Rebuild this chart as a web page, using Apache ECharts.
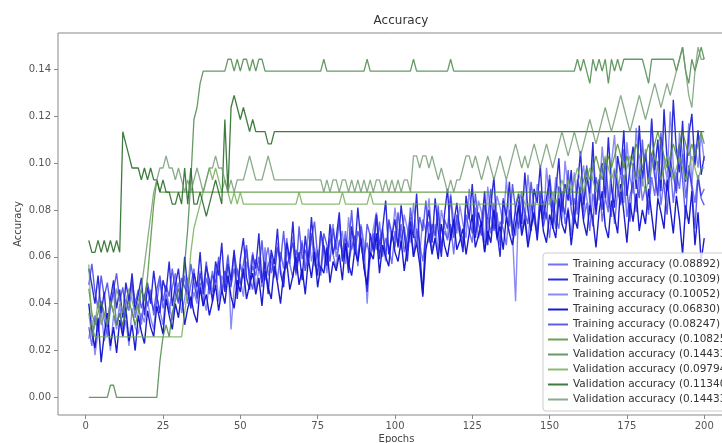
<!DOCTYPE html>
<html>
<head>
<meta charset="utf-8">
<script src="https://cdn.jsdelivr.net/npm/echarts@6/dist/echarts.min.js"></script>
<style>
  html, body { margin: 0; padding: 0; background: #fff; }
  #main { width: 722px; height: 443px; }
</style>
</head>
<body>
<div id="main"></div>
<script>
// epochs 1..200
var epochs = [];
for (var e = 1; e <= 200; e++) epochs.push(e);

var xTicks = [0, 25, 50, 75, 100, 125, 150, 175, 200];
var yTicks = [0, 0.02, 0.04, 0.06, 0.08, 0.10, 0.12, 0.14];

var trainNames = ['Training accuracy (0.08892)', 'Training accuracy (0.10309)', 'Training accuracy (0.10052)',
                  'Training accuracy (0.06830)', 'Training accuracy (0.08247)'];
// the last name carries a trailing space so the legend keeps both 0.14433 entries
var valNames = ['Validation accuracy (0.10825)', 'Validation accuracy (0.14433)', 'Validation accuracy (0.09794)',
                'Validation accuracy (0.11340)', 'Validation accuracy (0.14433) '];

var train1 = [
  0.030,0.022,0.035,0.028,0.041,0.033,0.026,0.038,0.045,0.031,0.036,0.029,0.042,0.037,0.048,0.034,0.040,0.031,0.044,0.039,
  0.046,0.035,0.041,0.050,0.038,0.044,0.036,0.047,0.053,0.041,0.045,0.052,0.040,0.048,0.055,0.043,0.049,0.039,0.051,0.046,
  0.054,0.047,0.058,0.044,0.050,0.061,0.048,0.055,0.046,0.057,0.051,0.063,0.049,0.056,0.052,0.060,0.047,0.058,0.064,0.053,
  0.059,0.050,0.062,0.055,0.068,0.057,0.051,0.063,0.058,0.066,0.054,0.061,0.070,0.056,0.063,0.052,0.065,0.059,0.068,0.061,
  0.055,0.067,0.062,0.071,0.058,0.064,0.069,0.056,0.073,0.061,0.066,0.059,0.070,0.063,0.075,0.060,0.068,0.064,0.057,0.071,
  0.065,0.074,0.062,0.069,0.077,0.060,0.072,0.066,0.058,0.070,0.075,0.063,0.068,0.079,0.064,0.071,0.067,0.074,0.061,0.076,
  0.069,0.064,0.078,0.071,0.066,0.081,0.068,0.073,0.062,0.077,0.070,0.083,0.067,0.075,0.072,0.065,0.080,0.074,0.069,0.084,
  0.071,0.078,0.066,0.082,0.075,0.070,0.086,0.073,0.079,0.068,0.084,0.077,0.072,0.088,0.074,0.081,0.069,0.085,0.078,0.090,
  0.076,0.083,0.071,0.087,0.080,0.093,0.075,0.085,0.079,0.091,0.074,0.088,0.082,0.095,0.077,0.086,0.092,0.079,0.097,0.084,
  0.090,0.078,0.094,0.086,0.101,0.082,0.093,0.088,0.099,0.083,0.096,0.089,0.104,0.085,0.097,0.091,0.083,0.095,0.086,0.089
];
var train2 = [
  0.055,0.048,0.040,0.052,0.036,0.045,0.030,0.042,0.050,0.038,0.046,0.034,0.049,0.041,0.053,0.037,0.044,0.051,0.035,0.047,
  0.040,0.054,0.043,0.036,0.050,0.045,0.058,0.039,0.048,0.055,0.042,0.060,0.046,0.038,0.053,0.047,0.062,0.044,0.056,0.050,
  0.041,0.058,0.052,0.066,0.045,0.057,0.050,0.063,0.042,0.059,0.068,0.051,0.046,0.061,0.055,0.070,0.049,0.058,0.044,0.063,
  0.057,0.072,0.053,0.047,0.066,0.059,0.075,0.054,0.062,0.050,0.069,0.058,0.077,0.060,0.052,0.071,0.064,0.056,0.074,0.061,
  0.068,0.079,0.058,0.065,0.053,0.073,0.062,0.081,0.066,0.057,0.045,0.070,0.063,0.078,0.059,0.072,0.084,0.061,0.069,0.076,
  0.064,0.082,0.070,0.058,0.075,0.068,0.087,0.063,0.044,0.072,0.080,0.066,0.085,0.071,0.060,0.078,0.089,0.067,0.074,0.083,
  0.070,0.062,0.086,0.076,0.091,0.068,0.079,0.073,0.088,0.065,0.082,0.094,0.071,0.060,0.084,0.077,0.092,0.069,0.081,0.087,
  0.074,0.096,0.080,0.071,0.089,0.083,0.099,0.076,0.085,0.093,0.072,0.088,0.102,0.079,0.091,0.084,0.097,0.075,0.090,0.105,
  0.082,0.094,0.087,0.109,0.078,0.092,0.100,0.085,0.111,0.090,0.081,0.103,0.095,0.114,0.086,0.098,0.107,0.089,0.116,0.093,
  0.104,0.091,0.119,0.097,0.110,0.088,0.123,0.101,0.094,0.127,0.105,0.096,0.118,0.092,0.112,0.121,0.099,0.114,0.095,0.103
];
var train3 = [
  0.025,0.033,0.018,0.028,0.037,0.024,0.031,0.020,0.035,0.029,0.040,0.026,0.033,0.022,0.038,0.030,0.027,0.036,0.032,0.041,
  0.034,0.029,0.043,0.037,0.031,0.046,0.039,0.033,0.044,0.049,0.036,0.042,0.051,0.038,0.045,0.040,0.054,0.043,0.037,0.050,
  0.045,0.056,0.041,0.052,0.048,0.060,0.029,0.047,0.055,0.050,0.043,0.058,0.053,0.062,0.046,0.055,0.049,0.064,0.052,0.058,
  0.051,0.066,0.055,0.049,0.063,0.057,0.069,0.052,0.060,0.067,0.054,0.072,0.058,0.064,0.056,0.070,0.061,0.053,0.068,0.074,
  0.060,0.066,0.071,0.057,0.077,0.063,0.069,0.059,0.074,0.066,0.040,0.061,0.072,0.079,0.064,0.070,0.058,0.075,0.067,0.081,
  0.070,0.063,0.078,0.072,0.066,0.083,0.069,0.061,0.076,0.071,0.085,0.067,0.074,0.062,0.080,0.073,0.068,0.087,0.075,0.070,
  0.082,0.074,0.068,0.089,0.076,0.071,0.084,0.079,0.066,0.090,0.077,0.072,0.086,0.081,0.074,0.093,0.078,0.070,0.041,0.083,
  0.088,0.075,0.095,0.082,0.077,0.091,0.085,0.073,0.098,0.084,0.079,0.094,0.087,0.076,0.101,0.089,0.082,0.096,0.080,0.092,
  0.099,0.085,0.078,0.103,0.090,0.084,0.107,0.093,0.081,0.100,0.112,0.088,0.096,0.083,0.109,0.094,0.087,0.115,0.098,0.090,
  0.106,0.092,0.118,0.097,0.085,0.111,0.101,0.093,0.122,0.099,0.088,0.113,0.104,0.095,0.117,0.091,0.108,0.098,0.112,0.101
];
var train4 = [
  0.040,0.028,0.021,0.034,0.015,0.027,0.036,0.022,0.030,0.019,0.033,0.026,0.038,0.024,0.031,0.020,0.035,0.028,0.023,0.037,
  0.030,0.026,0.039,0.033,0.027,0.042,0.035,0.029,0.040,0.034,0.045,0.031,0.038,0.043,0.036,0.032,0.047,0.039,0.044,0.035,
  0.041,0.048,0.037,0.046,0.040,0.052,0.043,0.038,0.050,0.045,0.055,0.042,0.048,0.053,0.044,0.051,0.039,0.054,0.047,0.042,
  0.056,0.049,0.040,0.053,0.058,0.046,0.052,0.060,0.048,0.055,0.044,0.059,0.051,0.062,0.047,0.056,0.053,0.064,0.049,0.058,
  0.054,0.061,0.050,0.066,0.057,0.052,0.063,0.058,0.068,0.055,0.048,0.062,0.059,0.070,0.053,0.065,0.060,0.056,0.071,0.062,
  0.058,0.067,0.054,0.064,0.072,0.060,0.066,0.057,0.043,0.063,0.070,0.061,0.068,0.059,0.074,0.065,0.060,0.069,0.076,0.063,
  0.067,0.072,0.061,0.070,0.078,0.064,0.069,0.075,0.062,0.071,0.066,0.080,0.068,0.073,0.063,0.077,0.070,0.065,0.074,0.082,
  0.069,0.076,0.064,0.072,0.079,0.067,0.083,0.071,0.066,0.078,0.073,0.068,0.085,0.074,0.070,0.080,0.065,0.077,0.072,0.087,
  0.075,0.069,0.082,0.076,0.064,0.079,0.088,0.073,0.068,0.084,0.077,0.070,0.091,0.079,0.066,0.083,0.075,0.087,0.071,0.080,
  0.074,0.089,0.078,0.067,0.085,0.079,0.072,0.093,0.081,0.070,0.086,0.076,0.061,0.082,0.074,0.088,0.065,0.079,0.058,0.068
];
var train5 = [
  0.048,0.057,0.045,0.038,0.052,0.043,0.049,0.039,0.046,0.053,0.041,0.047,0.036,0.044,0.050,0.040,0.046,0.038,0.043,0.049,
  0.042,0.037,0.046,0.052,0.041,0.048,0.043,0.055,0.045,0.040,0.051,0.047,0.044,0.057,0.049,0.042,0.053,0.046,0.058,0.044,
  0.052,0.049,0.060,0.045,0.054,0.050,0.047,0.062,0.053,0.048,0.057,0.065,0.051,0.046,0.059,0.054,0.067,0.050,0.056,0.061,
  0.052,0.064,0.058,0.071,0.055,0.061,0.066,0.053,0.073,0.059,0.063,0.057,0.068,0.075,0.060,0.054,0.070,0.065,0.058,0.072,
  0.063,0.076,0.059,0.068,0.064,0.080,0.061,0.071,0.066,0.058,0.074,0.069,0.062,0.078,0.065,0.072,0.060,0.076,0.070,0.064,
  0.079,0.067,0.073,0.062,0.081,0.070,0.065,0.077,0.071,0.084,0.066,0.074,0.069,0.082,0.063,0.076,0.072,0.086,0.068,0.078,
  0.073,0.066,0.084,0.077,0.070,0.087,0.074,0.069,0.082,0.076,0.089,0.071,0.079,0.065,0.085,0.078,0.073,0.091,0.080,0.072,
  0.086,0.079,0.074,0.092,0.081,0.069,0.088,0.083,0.076,0.095,0.082,0.072,0.090,0.084,0.078,0.097,0.080,0.074,0.093,0.086,
  0.079,0.099,0.084,0.073,0.094,0.088,0.080,0.102,0.086,0.077,0.097,0.090,0.083,0.106,0.089,0.075,0.100,0.092,0.085,0.110,
  0.091,0.080,0.104,0.094,0.086,0.113,0.090,0.078,0.101,0.095,0.087,0.108,0.093,0.076,0.099,0.089,0.072,0.094,0.085,0.082
];

var val1 = [
  0.0464,0.0361,0.0309,0.0361,0.0412,0.0361,0.0309,0.0412,0.0361,0.0309,
  0.0361,0.0309,0.0361,0.0412,0.0361,0.0309,0.0361,0.0464,0.0412,0.0515,
  0.0670,0.0825,0.0928,0.0876,0.0876,0.0876,0.0876,0.0876,0.0876,0.0876,
  0.0876,0.0876,0.0876,0.0876,0.0876,0.0876,0.0876,0.0876,0.0876,0.0876,
  0.0876,0.0876,0.0876,0.0876,0.0876,0.0876,0.0876,0.0876,0.0876,0.0876,
  0.0876,0.0876,0.0876,0.0876,0.0876,0.0876,0.0876,0.0876,0.0876,0.0876,
  0.0876,0.0876,0.0876,0.0876,0.0876,0.0876,0.0876,0.0876,0.0876,0.0876,
  0.0876,0.0876,0.0876,0.0876,0.0876,0.0876,0.0876,0.0876,0.0876,0.0876,
  0.0876,0.0876,0.0876,0.0876,0.0876,0.0876,0.0876,0.0876,0.0876,0.0876,
  0.0876,0.0876,0.0876,0.0876,0.0876,0.0876,0.0876,0.0876,0.0876,0.0876,
  0.0876,0.0876,0.0876,0.0876,0.0876,0.0876,0.0876,0.0876,0.0876,0.0876,
  0.0876,0.0876,0.0876,0.0876,0.0876,0.0876,0.0876,0.0876,0.0876,0.0876,
  0.0876,0.0876,0.0876,0.0876,0.0876,0.0876,0.0876,0.0876,0.0876,0.0876,
  0.0876,0.0876,0.0876,0.0876,0.0876,0.0876,0.0876,0.0876,0.0876,0.0876,
  0.0876,0.0876,0.0876,0.0876,0.0876,0.0876,0.0876,0.0876,0.0876,0.0876,
  0.0876,0.0876,0.0876,0.0876,0.0876,0.0876,0.0876,0.0876,0.0876,0.0876,
  0.0928,0.0979,0.0928,0.0979,0.1031,0.0979,0.0928,0.0979,0.1031,0.0979,
  0.1031,0.1082,0.1031,0.0979,0.1031,0.0979,0.1031,0.1082,0.1031,0.0979,
  0.1031,0.1082,0.1031,0.1082,0.1134,0.1082,0.1031,0.0979,0.1031,0.1082,
  0.1031,0.1082,0.1134,0.1082,0.1031,0.1082,0.1031,0.1082,0.1134,0.1082
];
var val2 = [
  0,0,0,0,0,0,0,0.0052,0.0052,0,
  0,0,0,0,0,0,0,0,0,0,
  0,0,0,0.0155,0.0258,0.0309,0.0258,0.0361,0.0412,0.0464,
  0.0412,0.0567,0.0722,0.0928,0.1186,0.1237,0.1340,0.1392,0.1392,0.1392,
  0.1392,0.1392,0.1392,0.1392,0.1392,0.1443,0.1443,0.1392,0.1443,0.1392,
  0.1443,0.1443,0.1392,0.1443,0.1392,0.1443,0.1443,0.1392,0.1392,0.1392,
  0.1392,0.1392,0.1392,0.1392,0.1392,0.1392,0.1392,0.1392,0.1392,0.1392,
  0.1392,0.1392,0.1392,0.1392,0.1392,0.1392,0.1443,0.1392,0.1392,0.1392,
  0.1392,0.1392,0.1392,0.1392,0.1392,0.1392,0.1392,0.1392,0.1392,0.1392,
  0.1443,0.1392,0.1392,0.1392,0.1392,0.1392,0.1392,0.1392,0.1392,0.1392,
  0.1392,0.1392,0.1392,0.1392,0.1392,0.1443,0.1392,0.1392,0.1392,0.1392,
  0.1392,0.1392,0.1392,0.1392,0.1392,0.1392,0.1392,0.1443,0.1392,0.1392,
  0.1392,0.1392,0.1392,0.1392,0.1392,0.1392,0.1392,0.1392,0.1392,0.1392,
  0.1392,0.1392,0.1392,0.1392,0.1392,0.1392,0.1392,0.1392,0.1392,0.1392,
  0.1392,0.1392,0.1392,0.1392,0.1392,0.1392,0.1392,0.1392,0.1392,0.1392,
  0.1392,0.1392,0.1392,0.1392,0.1392,0.1392,0.1392,0.1392,0.1443,0.1392,
  0.1443,0.1392,0.1340,0.1443,0.1392,0.1443,0.1392,0.1443,0.1340,0.1443,
  0.1392,0.1443,0.1392,0.1443,0.1443,0.1443,0.1443,0.1443,0.1443,0.1443,
  0.1392,0.1340,0.1443,0.1443,0.1443,0.1443,0.1443,0.1443,0.1443,0.1443,
  0.1392,0.1443,0.1495,0.1392,0.1340,0.1443,0.1392,0.1443,0.1495,0.1443
];
var val3 = [
  0.0567,0.0309,0.0258,0.0258,0.0258,0.0258,0.0258,0.0258,0.0258,0.0258,
  0.0258,0.0258,0.0258,0.0258,0.0258,0.0258,0.0258,0.0258,0.0258,0.0258,
  0.0258,0.0258,0.0258,0.0258,0.0258,0.0258,0.0258,0.0258,0.0258,0.0258,
  0.0258,0.0361,0.0464,0.0619,0.0722,0.0773,0.0825,0.0876,0.0928,0.0979,
  0.0928,0.0979,0.0928,0.0876,0.0928,0.0876,0.0825,0.0876,0.0825,0.0876,
  0.0825,0.0825,0.0825,0.0825,0.0825,0.0825,0.0825,0.0825,0.0825,0.0825,
  0.0825,0.0825,0.0825,0.0825,0.0825,0.0825,0.0825,0.0825,0.0876,0.0825,
  0.0825,0.0825,0.0825,0.0825,0.0825,0.0825,0.0825,0.0825,0.0825,0.0825,
  0.0825,0.0825,0.0876,0.0825,0.0825,0.0825,0.0825,0.0825,0.0825,0.0825,
  0.0825,0.0876,0.0825,0.0825,0.0825,0.0825,0.0825,0.0825,0.0825,0.0825,
  0.0825,0.0825,0.0825,0.0825,0.0825,0.0825,0.0825,0.0825,0.0825,0.0825,
  0.0825,0.0825,0.0825,0.0825,0.0825,0.0825,0.0825,0.0825,0.0825,0.0825,
  0.0825,0.0825,0.0825,0.0825,0.0825,0.0825,0.0825,0.0825,0.0825,0.0825,
  0.0825,0.0825,0.0825,0.0825,0.0825,0.0825,0.0825,0.0825,0.0825,0.0876,
  0.0876,0.0825,0.0825,0.0825,0.0825,0.0825,0.0825,0.0825,0.0825,0.0825,
  0.0876,0.0825,0.0876,0.0928,0.0876,0.0928,0.0876,0.0928,0.0979,0.0928,
  0.0876,0.0928,0.0979,0.0928,0.0876,0.0928,0.0979,0.1031,0.0979,0.0928,
  0.0979,0.0928,0.0876,0.0928,0.0979,0.1031,0.0979,0.0928,0.0979,0.0928,
  0.0876,0.0928,0.0979,0.1031,0.0979,0.0928,0.0979,0.1031,0.0979,0.0928,
  0.0979,0.1031,0.0979,0.0928,0.0979,0.1031,0.0979,0.0928,0.0979,0.0979
];
var val4 = [
  0.0670,0.0619,0.0619,0.0670,0.0619,0.0670,0.0619,0.0670,0.0619,0.0670,
  0.0619,0.1134,0.1082,0.1031,0.0979,0.0979,0.0979,0.0928,0.0979,0.0928,
  0.0979,0.0928,0.0928,0.0876,0.0928,0.0876,0.0876,0.0825,0.0825,0.0876,
  0.0825,0.0979,0.0825,0.0979,0.0825,0.0825,0.0876,0.0825,0.0773,0.0825,
  0.0876,0.0928,0.0876,0.0825,0.1186,0.0876,0.1237,0.1289,0.1237,0.1186,
  0.1237,0.1186,0.1134,0.1186,0.1134,0.1134,0.1134,0.1134,0.1082,0.1082,
  0.1134,0.1134,0.1134,0.1134,0.1134,0.1134,0.1134,0.1134,0.1134,0.1134,
  0.1134,0.1134,0.1134,0.1134,0.1134,0.1134,0.1134,0.1134,0.1134,0.1134,
  0.1134,0.1134,0.1134,0.1134,0.1134,0.1134,0.1134,0.1134,0.1134,0.1134,
  0.1134,0.1134,0.1134,0.1134,0.1134,0.1134,0.1134,0.1134,0.1134,0.1134,
  0.1134,0.1134,0.1134,0.1134,0.1134,0.1134,0.1134,0.1134,0.1134,0.1134,
  0.1134,0.1134,0.1134,0.1134,0.1134,0.1134,0.1134,0.1134,0.1134,0.1134,
  0.1134,0.1134,0.1134,0.1134,0.1134,0.1134,0.1134,0.1134,0.1134,0.1134,
  0.1134,0.1134,0.1134,0.1134,0.1134,0.1134,0.1134,0.1134,0.1134,0.1134,
  0.1134,0.1134,0.1134,0.1134,0.1134,0.1134,0.1134,0.1134,0.1134,0.1134,
  0.1134,0.1134,0.1134,0.1134,0.1134,0.1134,0.1134,0.1134,0.1134,0.1134,
  0.1134,0.1134,0.1134,0.1134,0.1134,0.1134,0.1134,0.1134,0.1134,0.1134,
  0.1134,0.1134,0.1134,0.1134,0.1134,0.1134,0.1134,0.1134,0.1134,0.1134,
  0.1134,0.1134,0.1134,0.1134,0.1134,0.1134,0.1134,0.1134,0.1134,0.1134,
  0.1134,0.1134,0.1134,0.1134,0.1134,0.1134,0.1134,0.1134,0.1134,0.1134
];
var val5 = [
  0.0361,0.0258,0.0309,0.0412,0.0309,0.0361,0.0309,0.0412,0.0361,0.0464,
  0.0412,0.0361,0.0412,0.0464,0.0412,0.0361,0.0412,0.0464,0.0567,0.0670,
  0.0773,0.0876,0.0928,0.0979,0.0979,0.1031,0.0979,0.0979,0.0928,0.0979,
  0.0928,0.0876,0.0928,0.0876,0.0928,0.0979,0.0928,0.0876,0.0928,0.0979,
  0.0979,0.1031,0.0979,0.0979,0.0928,0.0876,0.0928,0.0876,0.0928,0.0928,
  0.0928,0.0979,0.1031,0.0979,0.0928,0.0928,0.0928,0.0979,0.1031,0.0979,
  0.0928,0.0928,0.0928,0.0928,0.0928,0.0928,0.0928,0.0928,0.0928,0.0928,
  0.0928,0.0928,0.0928,0.0928,0.0928,0.0928,0.0876,0.0928,0.0876,0.0928,
  0.0928,0.0876,0.0928,0.0928,0.0876,0.0928,0.0876,0.0928,0.0876,0.0928,
  0.0876,0.0928,0.0876,0.0928,0.0928,0.0876,0.0928,0.0876,0.0928,0.0876,
  0.0928,0.0876,0.0928,0.0928,0.0876,0.1031,0.1031,0.0979,0.1031,0.1031,
  0.0979,0.1031,0.0979,0.0928,0.0979,0.0928,0.0876,0.0928,0.0876,0.0928,
  0.0928,0.0979,0.1031,0.1031,0.0979,0.1031,0.0979,0.0928,0.0979,0.1031,
  0.0979,0.0928,0.0979,0.1031,0.0979,0.0928,0.0979,0.1031,0.1082,0.1031,
  0.0979,0.1031,0.0979,0.1031,0.1082,0.1031,0.0979,0.1031,0.1082,0.1031,
  0.0979,0.1031,0.1082,0.1134,0.1082,0.1031,0.1082,0.1134,0.1082,0.1031,
  0.1082,0.1134,0.1186,0.1134,0.1082,0.1134,0.1186,0.1237,0.1186,0.1134,
  0.1186,0.1237,0.1289,0.1237,0.1186,0.1134,0.1186,0.1237,0.1289,0.1237,
  0.1186,0.1237,0.1289,0.1340,0.1289,0.1237,0.1289,0.1340,0.1289,0.1340,
  0.1392,0.1443,0.1495,0.1392,0.1289,0.1237,0.1392,0.1495,0.1443,0.1443
];

var trainData = [train1, train2, train3, train4, train5];
var valData = [val1, val2, val3, val4, val5];
var trainColors = ['rgba(40,40,235,0.65)', 'rgba(20,20,215,0.9)', 'rgba(60,60,240,0.6)', 'rgba(15,15,205,0.95)', 'rgba(40,40,225,0.75)'];
var valColors = ['rgba(70,140,40,0.8)', 'rgba(50,120,50,0.75)', 'rgba(110,170,80,0.8)', 'rgba(30,100,30,0.85)', 'rgba(110,150,110,0.8)'];

function pairs(arr) {
  return arr.map(function (v, i) { return [epochs[i], v]; });
}

var series = [];
trainData.forEach(function (d, i) {
  series.push({
    name: trainNames[i], type: 'line', data: pairs(d), symbol: 'none',
    lineStyle: { color: trainColors[i], width: 1.4 }, itemStyle: { color: trainColors[i] }
  });
});
valData.forEach(function (d, i) {
  series.push({
    name: valNames[i], type: 'line', data: pairs(d), symbol: 'none',
    lineStyle: { color: valColors[i], width: 1.3 }, itemStyle: { color: valColors[i] }
  });
});

var myChart = echarts.init(document.getElementById('main'));
var option = {
  animation: false,
  backgroundColor: '#fff',
  title: {
    text: 'Accuracy', left: 396, top: 10, textAlign: 'center',
    textStyle: { fontSize: 12, fontWeight: 'normal', color: '#333', fontFamily: 'DejaVu Sans' }
  },
  grid: {
    left: 58, right: -13, top: 33, bottom: 28, outerBoundsMode: 'none',
    show: true, borderColor: '#888', borderWidth: 1, backgroundColor: 'transparent'
  },
  legend: {
    orient: 'vertical', left: 543, top: 253,
    icon: 'rect', itemWidth: 20, itemHeight: 2, itemGap: 0,
    backgroundColor: 'rgba(255,255,255,0.85)', borderColor: '#ccc', borderWidth: 1, borderRadius: 3,
    padding: [4, 40, 4, 5],
    textStyle: { fontSize: 10.5, color: '#333', fontFamily: 'DejaVu Sans', lineHeight: 15 },
    data: trainNames.concat(valNames)
  },
  xAxis: {
    type: 'value', min: -8.95, max: 209.95,
    name: 'Epochs', nameLocation: 'middle', nameGap: 19, nameMoveOverlap: false,
    nameTextStyle: { fontSize: 10, color: '#444', fontFamily: 'DejaVu Sans' },
    axisLine: { show: false, onZero: false },
    axisTick: { show: true, length: 4, inside: false, customValues: xTicks, lineStyle: { color: '#888' } },
    axisLabel: { customValues: xTicks, fontSize: 10, color: '#555', margin: 6, fontFamily: 'DejaVu Sans' },
    splitLine: { show: false }
  },
  yAxis: {
    type: 'value', min: -0.0075, max: 0.1555,
    name: 'Accuracy', nameLocation: 'middle', nameGap: 35, nameMoveOverlap: false,
    nameTextStyle: { fontSize: 10, color: '#444', fontFamily: 'DejaVu Sans' },
    axisLine: { show: false, onZero: false },
    axisTick: { show: true, length: 4, customValues: yTicks, lineStyle: { color: '#888' } },
    axisLabel: {
      customValues: yTicks, fontSize: 10, color: '#555', margin: 7, fontFamily: 'DejaVu Sans',
      formatter: function (v) { return v.toFixed(2); }
    },
    splitLine: { show: false }
  },
  series: series
};
myChart.setOption(option);
</script>
</body>
</html>
